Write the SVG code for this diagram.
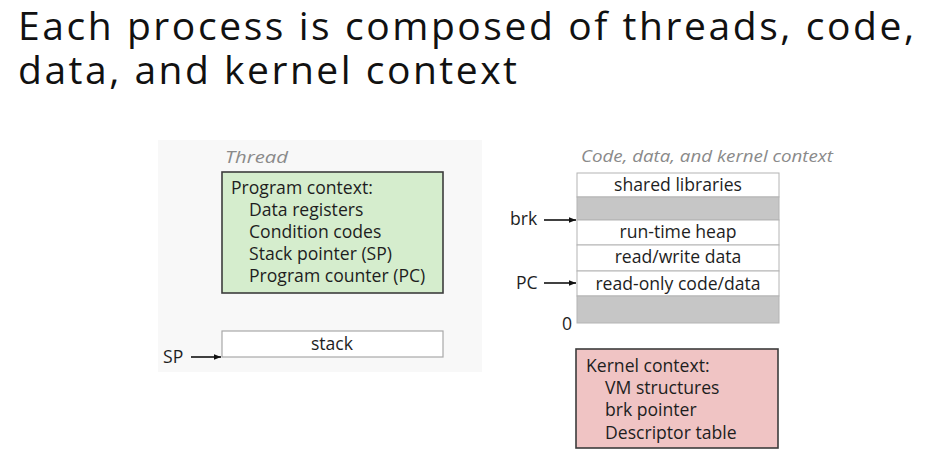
<svg xmlns="http://www.w3.org/2000/svg" width="949" height="469" viewBox="0 0 949 469">
  <defs>
    <marker id="arrow" viewBox="0 0 10 10" refX="10" refY="5" markerWidth="7" markerHeight="7" markerUnits="userSpaceOnUse" orient="auto">
      <path d="M0,1 L10,5 L0,9 z" fill="#111"/>
    </marker>
    <style>
      text { font-family: "Open Sans", "Liberation Sans", sans-serif; fill: #1e1e1e; }
      .title { font-size: 39px; fill: #111; }
      .body { font-size: 17.6px; }
      .caption { font-size: 17px; font-style: italic; fill: #8a8a8a; }
      .mid { text-anchor: middle; }
      .row { fill: #ffffff; stroke: #b4b4b4; stroke-width: 1; }
      .gap { fill: #c6c6c6; stroke: #b4b4b4; stroke-width: 1; }
      .ptr { stroke: #111; stroke-width: 1.6; fill: none; marker-end: url(#arrow); }
    </style>
  </defs>

  <rect width="949" height="469" fill="#ffffff"/>

  <!-- heading, wrapped over two lines -->
  <text class="title">
    <tspan x="18" y="40" textLength="896" lengthAdjust="spacing">Each process is composed of threads, code,</tspan>
    <tspan x="18" y="84" textLength="499" lengthAdjust="spacing">data, and kernel context</tspan>
  </text>

  <!-- thread panel -->
  <g id="thread">
    <rect x="158" y="140" width="324" height="232" fill="#f8f8f8"/>
    <text class="caption" x="225" y="163" textLength="63" lengthAdjust="spacingAndGlyphs">Thread</text>
  </g>

  <g id="program-context">
    <rect x="222" y="172" width="221" height="121" fill="#d5edcd" stroke="#3c3c3c" stroke-width="1.6"/>
    <text class="body" x="231" y="194">Program context:</text>
    <text class="body" x="249" y="216">Data registers</text>
    <text class="body" x="249" y="238">Condition codes</text>
    <text class="body" x="249" y="260">Stack pointer (SP)</text>
    <text class="body" x="249" y="282">Program counter (PC)</text>
  </g>

  <g id="stack">
    <rect x="222" y="331" width="221" height="26" fill="#ffffff" stroke="#a8a8a8" stroke-width="1.2"/>
    <text class="body mid" x="332" y="350">stack</text>
  </g>

  <!-- address space -->
  <g id="address-space">
    <text class="caption" x="581" y="162" textLength="252" lengthAdjust="spacingAndGlyphs">Code, data, and kernel context</text>
    <rect class="row" x="577" y="173" width="202" height="24"/>
    <text class="body mid" x="678" y="191">shared libraries</text>
    <rect class="gap" x="577" y="197" width="202" height="23"/>
    <rect class="row" x="577" y="220" width="202" height="25"/>
    <text class="body mid" x="678" y="238">run-time heap</text>
    <rect class="row" x="577" y="245" width="202" height="26"/>
    <text class="body mid" x="678" y="263">read/write data</text>
    <rect class="row" x="577" y="271" width="202" height="25"/>
    <text class="body mid" x="678" y="290">read-only code/data</text>
    <rect class="gap" x="577" y="296" width="202" height="27"/>
    <text class="body" x="562" y="330">0</text>
  </g>

  <g id="kernel-context">
    <rect x="576" y="349" width="202" height="99" fill="#f0c4c4" stroke="#3c3c3c" stroke-width="1.6"/>
    <text class="body" x="586" y="372">Kernel context:</text>
    <text class="body" x="605" y="394">VM structures</text>
    <text class="body" x="605" y="416">brk pointer</text>
    <text class="body" x="605" y="439">Descriptor table</text>
  </g>

  <!-- pointer labels -->
  <g id="labels">
    <text class="body" x="163" y="363">SP</text>
    <text class="body" x="510" y="225">brk</text>
    <text class="body" x="516" y="289">PC</text>
  </g>

  <g id="connectors">
    <line class="ptr" x1="191" y1="357" x2="221" y2="357"/>
    <line class="ptr" x1="544" y1="220" x2="576" y2="220"/>
    <line class="ptr" x1="544" y1="283" x2="576" y2="283"/>
  </g>
</svg>
